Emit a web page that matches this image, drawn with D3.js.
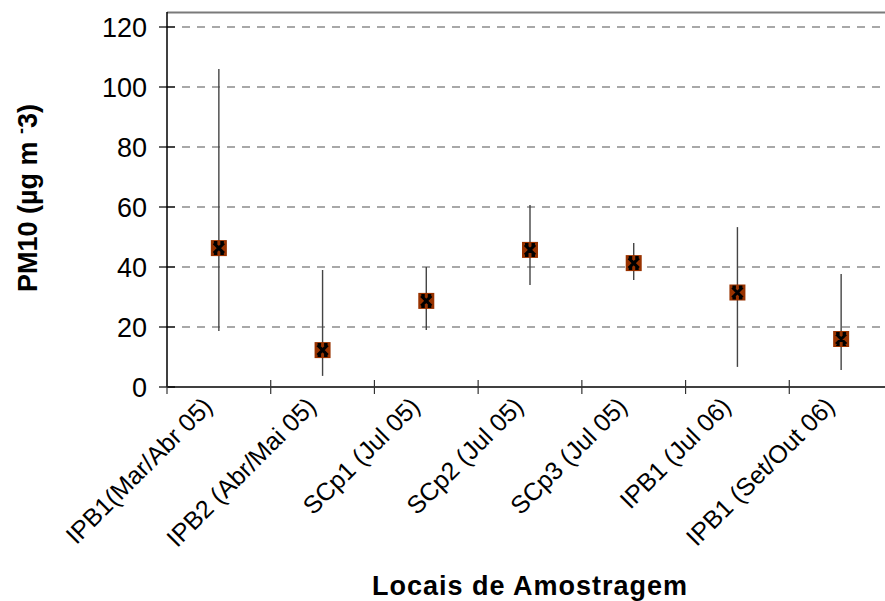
<!DOCTYPE html>
<html lang="pt">
<head>
  <meta charset="UTF-8" />
  <title>PM10 por local de amostragem</title>
  <script src="https://d3js.org/d3.v7.min.js"></script>
  <style>
    body { margin: 0; background: #fff; }
    svg { display: block; font-family: "Liberation Sans", Arial, sans-serif; }
    .grid line { stroke: #8c8c8c; stroke-width: 1.3; stroke-dasharray: 8,7; }
    .tickY { font-size: 27px; }
    .tickX { font-size: 25px; }
    .title { font-weight: bold; }
  </style>
</head>
<body>
  <svg width="885" height="601"></svg>

  <script>
    // dados
    const locais = ["IPB1(Mar/Abr 05)", "IPB2 (Abr/Mai 05)", "SCp1 (Jul 05)", "SCp2 (Jul 05)",
                    "SCp3 (Jul 05)", "IPB1 (Jul 06)", "IPB1 (Set/Out 06)"];
    const media  = [46.3, 12.3, 28.7, 45.7, 41.3, 31.5, 16.0];
    const maximo = [106, 39, 40, 60.7, 48, 53.3, 37.7];
    const minimo = [18.7, 3.7, 19, 34, 35.7, 6.7, 5.7];
    const yTicks = [0, 20, 40, 60, 80, 100, 120];

    const svg = d3.select("svg");
    const mLeft = 167, mRight = 893, mTop = 12, mBottom = 387;

    const x = d3.scaleBand().domain(locais).range([mLeft, mRight]);
    const y = d3.scaleLinear().domain([0, 125]).range([mBottom, mTop]);
    const cx = d => x(d) + x.bandwidth() / 2;

    // linhas de grelha
    svg.append("g").attr("class", "grid")
      .selectAll("line")
      .data(yTicks.filter(d => d > 0))
      .join("line")
      .attr("x1", mLeft).attr("x2", 885)
      .attr("y1", d => y(d)).attr("y2", d => y(d));

    // borda superior da área do gráfico
    svg.append("line")
      .attr("x1", mLeft).attr("x2", 885)
      .attr("y1", mTop + 0.5).attr("y2", mTop + 0.5)
      .attr("stroke", "#7a7a7a").attr("stroke-width", 2);

    // eixo Y
    svg.append("line")
      .attr("x1", mLeft).attr("x2", mLeft)
      .attr("y1", mTop).attr("y2", mBottom)
      .attr("stroke", "#000").attr("stroke-width", 1.5);

    const yt = svg.append("g").selectAll("g").data(yTicks).join("g")
      .attr("transform", d => `translate(0,${y(d)})`);
    yt.append("line")
      .attr("x1", mLeft - 8).attr("x2", mLeft + 8)
      .attr("stroke", "#000").attr("stroke-width", 1.2);
    yt.append("text")
      .attr("class", "tickY")
      .attr("x", mLeft - 20).attr("dy", "0.36em")
      .attr("text-anchor", "end")
      .text(d => d);

    // eixo X
    svg.append("line")
      .attr("x1", mLeft).attr("x2", 885)
      .attr("y1", mBottom).attr("y2", mBottom)
      .attr("stroke", "#000").attr("stroke-width", 1.5);

    svg.append("g").selectAll("line")
      .data(locais)
      .join("line")
      .attr("x1", d => x(d)).attr("x2", d => x(d))
      .attr("y1", mBottom - 7).attr("y2", mBottom + 7)
      .attr("stroke", "#333").attr("stroke-width", 1.2);

    svg.append("g").selectAll("text")
      .data(locais)
      .join("text")
      .attr("class", "tickX")
      .attr("text-anchor", "end")
      .attr("transform", d => `translate(${cx(d) - 5},${mBottom + 21}) rotate(-45)`)
      .text(d => d);

    // barras de erro (mín - máx)
    svg.append("g").selectAll("line")
      .data(locais)
      .join("line")
      .attr("x1", cx).attr("x2", cx)
      .attr("y1", (d, i) => y(maximo[i]))
      .attr("y2", (d, i) => y(minimo[i]))
      .attr("stroke", "#444").attr("stroke-width", 1.4);

    // marcadores da média
    const mk = svg.append("g").selectAll("g")
      .data(locais)
      .join("g")
      .attr("transform", (d, i) => `translate(${cx(d)},${y(media[i])})`);
    mk.append("rect")
      .attr("x", -8).attr("y", -8).attr("width", 16).attr("height", 16)
      .attr("fill", "#993300");
    mk.append("path")
      .attr("d", "M-5,-5L5,5M5,-5L-5,5M-5,-5.5H-1.5M1.5,-5.5H5M-5,5.5H-1.5M1.5,5.5H5")
      .attr("stroke", "#000").attr("stroke-width", 3).attr("fill", "none");

    // títulos dos eixos
    svg.append("text")
      .attr("class", "title")
      .attr("font-size", 27)
      .attr("letter-spacing", 1)
      .attr("text-anchor", "middle")
      .attr("x", (mLeft + mRight) / 2).attr("y", 595)
      .text("Locais de Amostragem");

    const yl = svg.append("text")
      .attr("class", "title")
      .attr("font-size", 27)
      .attr("text-anchor", "middle")
      .attr("transform", "translate(37,198) rotate(-90)");
    yl.append("tspan").text("PM10 (µg m ");
    yl.append("tspan").attr("dy", -10).attr("font-size", 18).text("-");
    yl.append("tspan").attr("dy", 10).text("3)");
  </script>
</body>
</html>
